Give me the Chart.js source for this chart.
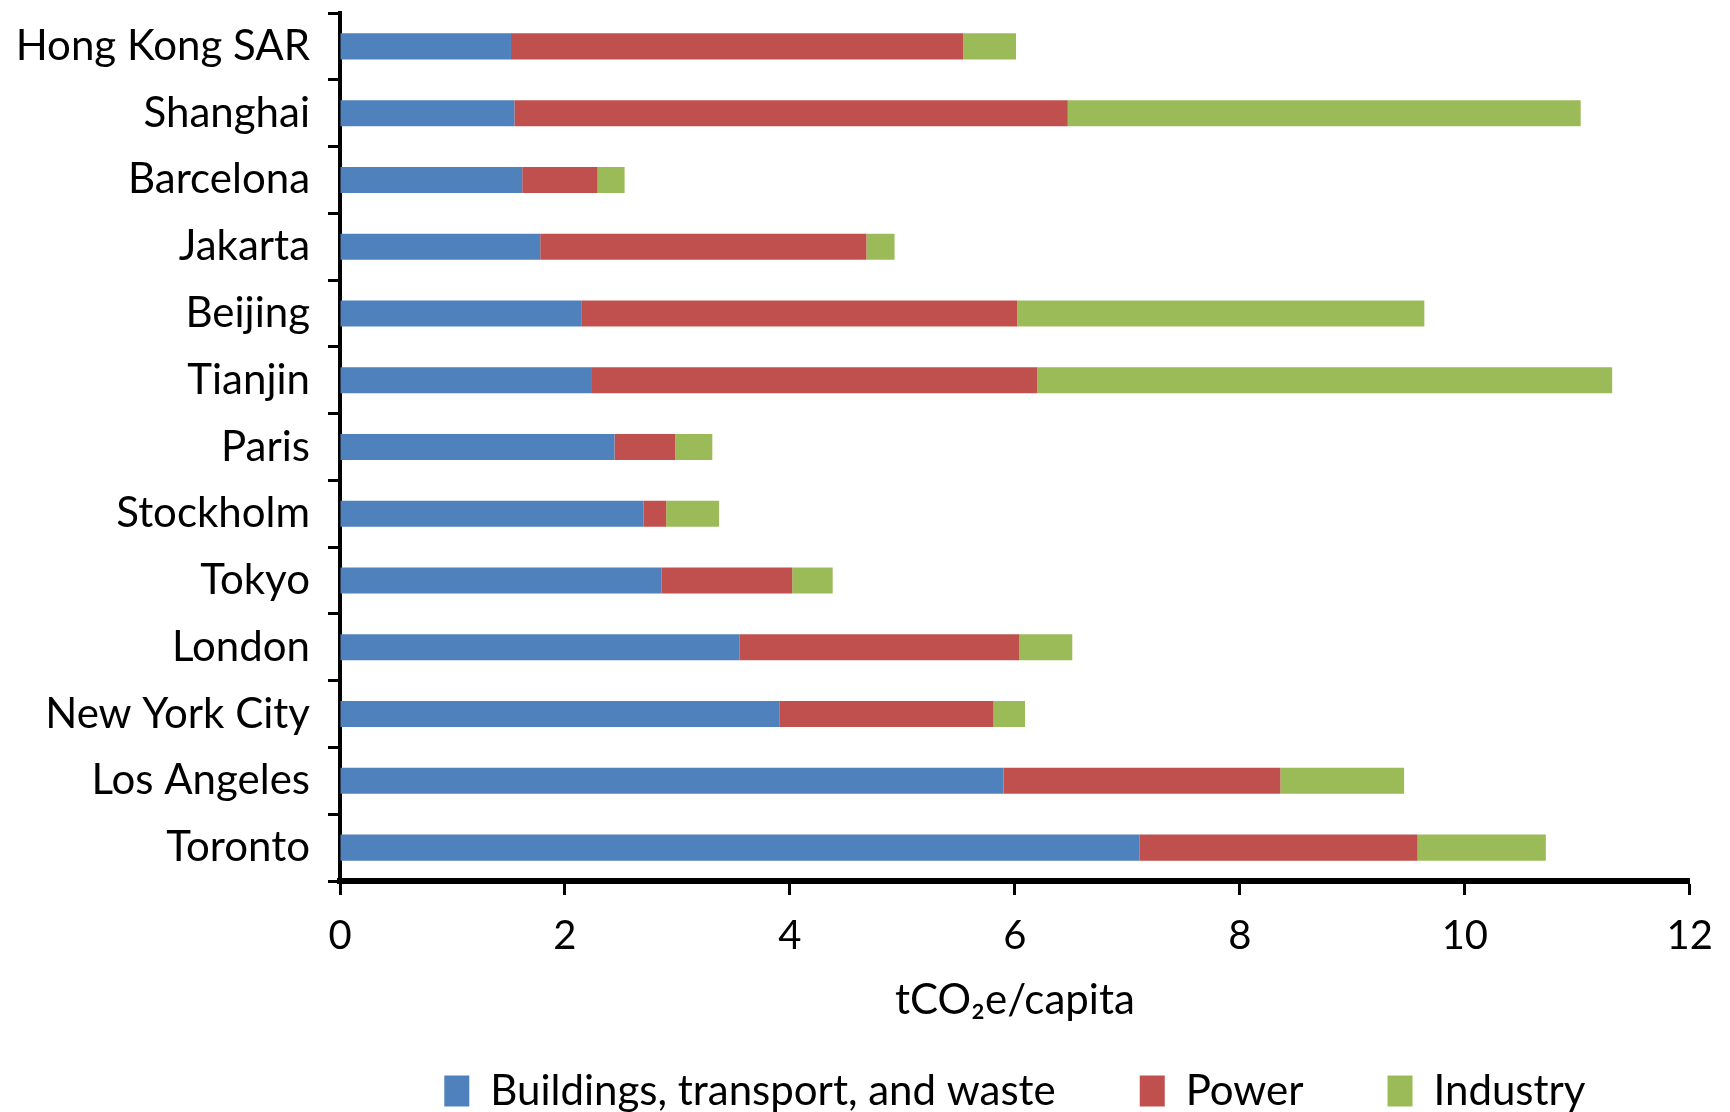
<!DOCTYPE html>
<html>
<head>
<meta charset="utf-8">
<script src="https://cdn.jsdelivr.net/npm/chart.js@4/dist/chart.umd.min.js"></script>
<style>
  html, body { margin: 0; padding: 0; background: #fff; }
  #wrap { width: 1730px; height: 1112px; }
</style>
</head>
<body>
<div id="wrap"><canvas id="myChart"></canvas></div>
<script>
var cities = ["Hong Kong SAR", "Shanghai", "Barcelona", "Jakarta", "Beijing", "Tianjin", "Paris",
              "Stockholm", "Tokyo", "London", "New York City", "Los Angeles", "Toronto"];
var buildings = [1.52, 1.55, 1.62, 1.78, 2.15, 2.24, 2.44, 2.70, 2.86, 3.55, 3.91, 5.90, 7.11];
var power     = [4.02, 4.92, 0.67, 2.90, 3.87, 3.96, 0.54, 0.20, 1.16, 2.49, 1.90, 2.46, 2.47];
var industry  = [0.47, 4.56, 0.24, 0.25, 3.62, 5.11, 0.33, 0.47, 0.36, 0.47, 0.28, 1.10, 1.14];
var xTicks = [0, 2, 4, 6, 8, 10, 12];

var font = "Lato, 'Open Sans', sans-serif";

var ctx = document.getElementById('myChart').getContext('2d');

var chart = new Chart(ctx, {
    type: 'bar',
    data: {
        labels: cities,
        datasets: [
            { label: "Buildings, transport, and waste", data: buildings, backgroundColor: '#4F81BD' },
            { label: "Power", data: power, backgroundColor: '#C0504D' },
            { label: "Industry", data: industry, backgroundColor: '#9BBB59' }
        ]
    },
    options: {
        indexAxis: 'y',
        responsive: true,
        maintainAspectRatio: false,
        animation: false,
        datasets: { bar: { categoryPercentage: 1, barPercentage: 0.39 } },
        layout: { padding: { top: 13, right: 34, left: 0, bottom: 0 } },
        plugins: {
            tooltip: { enabled: false },
            legend: {
                position: 'bottom',
                fullSize: false,
                maxHeight: 126,
                labels: {
                    color: '#000',
                    font: { family: font, size: 42 },
                    boxWidth: 25,
                    boxHeight: 31,
                    padding: 84
                }
            }
        },
        scales: {
            x: {
                stacked: true,
                min: 0,
                max: 12,
                afterBuildTicks: function(scale) {
                    scale.ticks = xTicks.map(function(v) { return { value: v }; });
                },
                afterFit: function(scale) { scale.height = 105; },
                grid: { drawOnChartArea: false, tickLength: 14, tickWidth: 3, tickColor: '#000' },
                border: { color: '#000', width: 6 },
                ticks: { color: '#000', font: { family: font, size: 40 }, padding: 17 },
                title: {
                    display: true,
                    text: 'tCO\u2082e/capita',
                    color: '#000',
                    font: { family: font, size: 42 },
                    padding: { top: 0, bottom: -40 }
                }
            },
            y: {
                stacked: true,
                afterFit: function(scale) {
                    scale.width = 340;
                    scale.paddingTop = 0;
                    scale.paddingBottom = 0;
                },
                grid: { drawOnChartArea: false, offset: true, tickLength: 12, tickWidth: 3, tickColor: '#000' },
                border: { color: '#000', width: 4 },
                ticks: { color: '#000', font: { family: font, size: 42 }, padding: 18 }
            }
        }
    }
});
</script>
</body>
</html>
